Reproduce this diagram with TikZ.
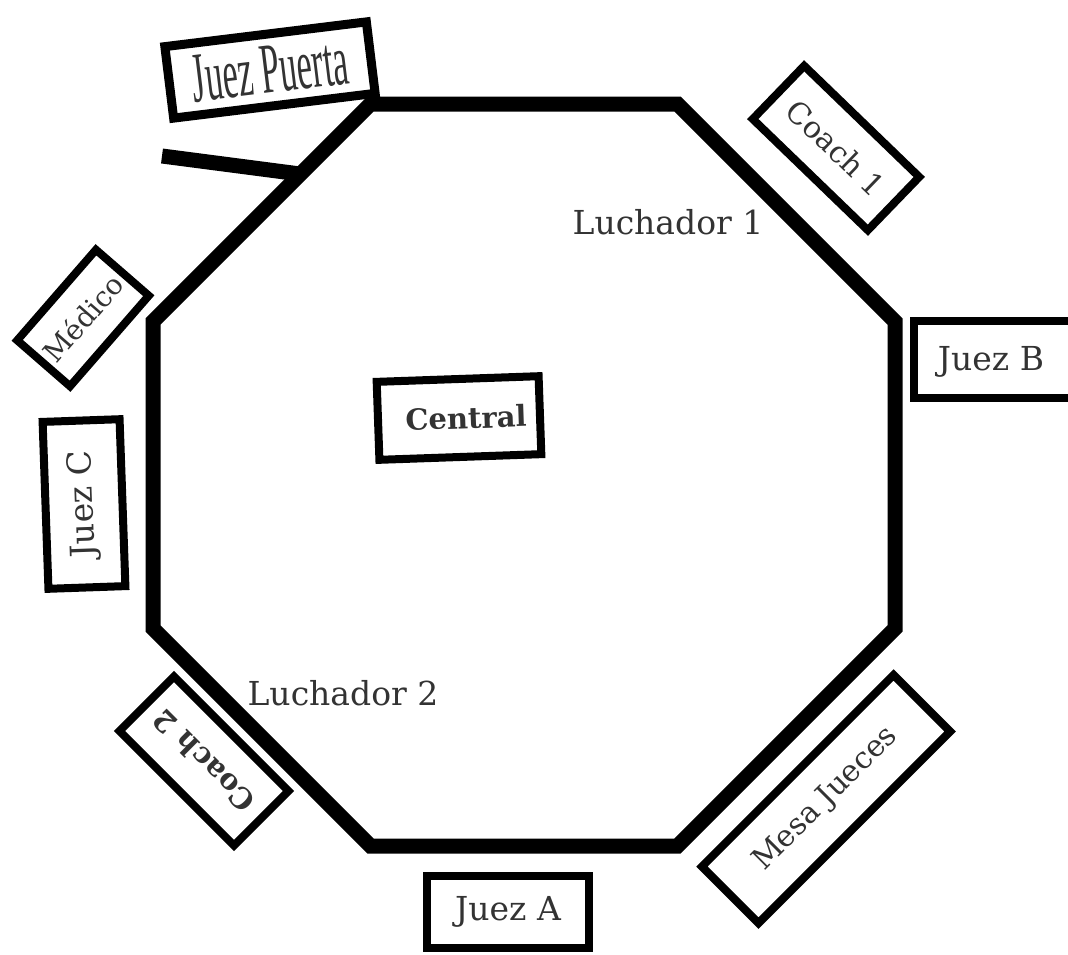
\documentclass[tikz,border=0pt]{standalone}
\usepackage{fontspec}
\setmainfont{DejaVu Serif}
\newfontfamily\condfont{Liberation Serif}
\usepackage{graphicx}
\tikzset{
  lbl/.style={font=\fontsize{33}{38}\selectfont, text=black!80},
  box/.style={draw=black, line width=8pt, line join=miter, inner sep=0pt, lbl},
  ring/.style={draw=black, line width=15pt, line join=miter},
}
\begin{document}
\begin{tikzpicture}[x=1pt,y=-1pt]
\useasboundingbox[fill=white] (0,0) rectangle (1068,954);
% octagon
\coordinate (o1) at (370.5,104);
\coordinate (o2) at (677.5,104);
\coordinate (o3) at (895,321.5);
\coordinate (o4) at (895,628.5);
\coordinate (o5) at (677.5,846);
\coordinate (o6) at (370.5,846);
\coordinate (o7) at (153,628.5);
\coordinate (o8) at (153,321.5);
\draw[ring] (o1) -- (o2) -- (o3) -- (o4) -- (o5) -- (o6) -- (o7) -- (o8) -- cycle;
% gate
\coordinate (g1) at (162,156);
\coordinate (g2) at (300,174);
\draw[line width=15pt] (g1) -- (g2);
% boxes
\node[box, line width=9pt, minimum width=203pt, minimum height=72pt, rotate=7] (jp) at (270,70)
  {\raisebox{-4pt}{\scalebox{0.52}[1.08]{\condfont\fontsize{66}{70}\selectfont Juez Puerta}}};
\node[box, minimum width=160pt, minimum height=74pt, rotate=-44] (c1) at (836,148)
  {\fontsize{30}{34}\selectfont Coach 1};
\node[box, minimum width=180pt, minimum height=77pt] (jbbox) at (1004,359.5) {};
\node[lbl] (jb) at (991,362) {Juez B};
\node[box, minimum width=120pt, minimum height=70pt, rotate=49] (med) at (83,318)
  {\fontsize{28}{32}\selectfont Médico};
\node[box, minimum width=167pt, minimum height=77pt, rotate=92] (jc) at (84,504) {Juez C};
\node[box, minimum width=162pt, minimum height=78pt, rotate=2] (cen) at (459,418)
  {\hspace{14pt}\raisebox{-5pt}{\bfseries\fontsize{29}{33}\selectfont Central}};
\node[box, minimum width=162pt, minimum height=77pt, rotate=135] (c2) at (204,761)
  {\bfseries\fontsize{29}{33}\selectfont Coach 2};
\node[box, minimum width=271pt, minimum height=80pt, rotate=45] (mj) at (826,799)
  {\fontsize{30}{34}\selectfont Mesa Jueces};
\node[box, minimum width=162pt, minimum height=72pt] (ja) at (508,912) {Juez A};
% fighters
\node[lbl] (l1) at (668,222) {Luchador 1};
\node[lbl] (l2) at (343,693) {Luchador 2};
\end{tikzpicture}
\end{document}
